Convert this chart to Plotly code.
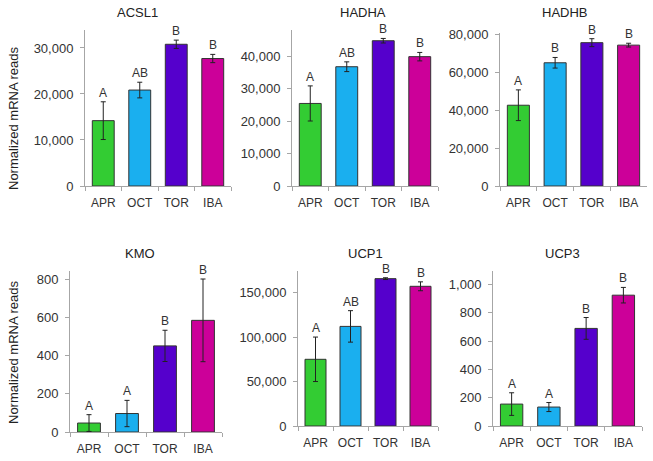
import plotly.graph_objects as go
from plotly.subplots import make_subplots

groups = ["APR", "OCT", "TOR", "IBA"]
colors = ["#33CC33", "#1AAFEF", "#5500CC", "#CC0099"]

genes = ["ACSL1", "HADHA", "HADHB", "KMO", "UCP1", "UCP3"]
means = {
    "ACSL1": [14200, 20850, 30800, 27700],
    "HADHA": [25400, 36700, 44700, 39800],
    "HADHB": [42600, 65000, 75600, 74300],
    "KMO": [47, 97, 452, 586],
    "UCP1": [75000, 112000, 165700, 157100],
    "UCP3": [155, 134, 690, 925],
}
errors = {
    "ACSL1": [4100, 1700, 900, 900],
    "HADHA": [5400, 1500, 700, 1300],
    "HADHB": [8100, 2800, 2100, 1000],
    "KMO": [44, 69, 82, 217],
    "UCP1": [25000, 17700, 1000, 5000],
    "UCP3": [80, 32, 77, 55],
}
letters = {
    "ACSL1": ["A", "AB", "B", "B"],
    "HADHA": ["A", "AB", "B", "B"],
    "HADHB": ["A", "B", "B", "B"],
    "KMO": ["A", "A", "B", "B"],
    "UCP1": ["A", "AB", "B", "B"],
    "UCP3": ["A", "A", "B", "B"],
}
ymax = {"ACSL1": 33900, "HADHA": 48000, "HADHB": 80700,
        "KMO": 845, "UCP1": 174300, "UCP3": 1096}
dticks = {"ACSL1": 10000, "HADHA": 10000, "HADHB": 20000,
          "KMO": 200, "UCP1": 50000, "UCP3": 200}

W, H = 653, 461
# plot boxes in pixels: left, right, top, bottom
boxes = {
    "ACSL1": (85, 231, 30, 186),
    "HADHA": (292, 438, 30, 186),
    "HADHB": (500, 647, 33, 186),
    "KMO": (70, 222, 271, 432),
    "UCP1": (298, 438, 271, 426),
    "UCP3": (493, 642, 271, 426),
}
titles_xy = {
    "ACSL1": (137, 13), "HADHA": (363, 13), "HADHB": (565, 13),
    "KMO": (140, 253), "UCP1": (365, 253), "UCP3": (562, 253),
}

fig = make_subplots(rows=2, cols=3)
font = "Liberation Sans, Arial, sans-serif"
axcol = "#A6A6A6"

for i, g in enumerate(genes):
    r, c = i // 3 + 1, i % 3 + 1
    fig.add_trace(go.Bar(
        x=groups, y=means[g], marker_color=colors,
        marker_line_color="#333333", marker_line_width=1,
        error_y=dict(type="data", array=errors[g], color="#222222",
                     thickness=1, width=2.5),
        showlegend=False,
    ), row=r, col=c)
    l, rt, t, b = boxes[g]
    n = "" if i == 0 else str(i + 1)
    fig.layout["xaxis" + n].update(
        domain=[l / W, rt / W], showline=True, linecolor=axcol,
        ticks="outside", tickson="boundaries", ticklen=4, tickcolor=axcol,
        ticklabelstandoff=6,
        tickfont=dict(size=12, color="#333333", family=font),
        showgrid=False, automargin=False)
    fig.layout["yaxis" + n].update(
        domain=[1 - b / H, 1 - t / H], range=[0, ymax[g]],
        dtick=dticks[g], tickformat=",d", showline=True, linecolor=axcol,
        ticks="outside", ticklen=4, tickcolor=axcol, showgrid=False,
        zeroline=False, automargin=False, ticklabelstandoff=4,
        tickfont=dict(size=13, color="#333333", family=font))
    for k in range(4):
        fig.add_annotation(
            x=groups[k], y=means[g][k] + errors[g][k],
            xref="x" + n, yref="y" + n, text=letters[g][k],
            showarrow=False, yanchor="bottom", yshift=0,
            font=dict(size=12, color="#333333", family=font))
    tx, ty = titles_xy[g]
    fig.add_annotation(x=tx / W, y=1 - ty / H, xref="paper", yref="paper",
                       text=g, showarrow=False, xanchor="center",
                       yanchor="middle",
                       font=dict(size=13, color="#222222", family=font))

for yc in [118, 352]:
    fig.add_annotation(x=13 / W, y=1 - yc / H, xref="paper", yref="paper",
                       text="Normalized mRNA reads", textangle=-90,
                       showarrow=False, xanchor="center", yanchor="middle",
                       font=dict(size=13, color="#222222", family=font))

fig.update_layout(
    width=W, height=H, margin=dict(l=0, r=0, t=0, b=0),
    plot_bgcolor="white", paper_bgcolor="white", bargap=0.4,
)

fig.write_html("out.html", config={"displayModeBar": False},
               post_script="document.body.style.margin='0';")
